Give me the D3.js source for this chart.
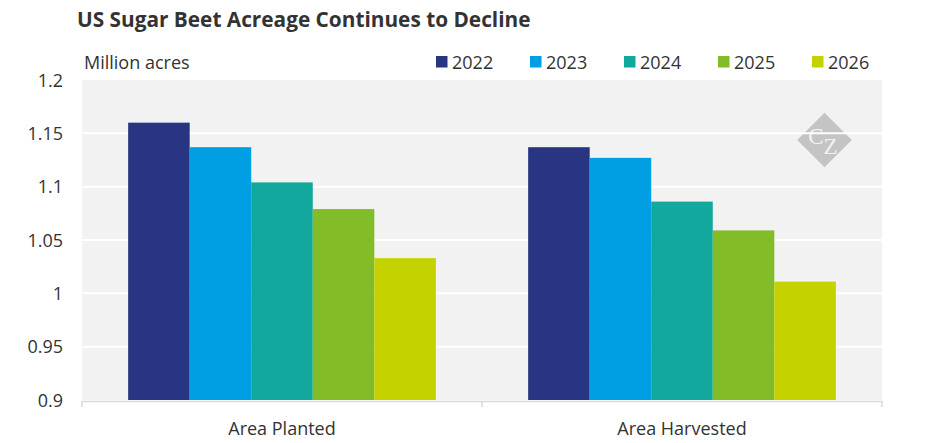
<!DOCTYPE html>
<html>
<head>
<meta charset="utf-8">
<script src="https://cdn.jsdelivr.net/npm/d3@7"></script>
<style>
   body { margin: 0; background: #fff; }
   text { font-family: 'Open Sans', sans-serif; fill: #333; }
</style>
</head>
<body>
<div id="chart"></div>
<script>
// chart values
const categories = ['Area Planted', 'Area Harvested'];
const years = ['2022', '2023', '2024', '2025', '2026'];
const planted = [1.160, 1.137, 1.104, 1.079, 1.033];
const harvested = [1.137, 1.127, 1.086, 1.059, 1.011];
const yTicks = [0.9, 0.95, 1, 1.05, 1.1, 1.15, 1.2];
const colors = ['#283583', '#009fe3', '#13a89e', '#82bc29', '#c4d200'];

const width = 945;
const height = 443;
const margin = { top: 80, right: 63, bottom: 43, left: 82 };

const series = [planted, harvested];

const svg = d3.select('#chart')
   .append('svg')
   .attr('width', width)
   .attr('height', height);

const x0 = d3.scaleBand()
   .domain(categories)
   .range([margin.left, width - margin.right])
   .padding(0);

const x1 = d3.scaleBand()
   .domain(years)
   .range([0, x0.bandwidth()])
   .paddingInner(0)
   .paddingOuter(0.75);

const y = d3.scaleLinear()
   .domain([0.9, 1.2])
   .range([height - margin.bottom, margin.top]);

const color = d3.scaleOrdinal().domain(years).range(colors);

// plot background
svg.append('rect')
   .attr('x', margin.left)
   .attr('y', y(1.2))
   .attr('width', width - margin.left - margin.right)
   .attr('height', y(0.9) - y(1.2))
   .attr('fill', '#f2f2f2');

// logo (under the grid)
const logo = svg.append('g')
   .attr('transform', 'translate(824.5,140)');
logo.append('rect')
   .attr('x', -19.3).attr('y', -19.3)
   .attr('width', 38.6).attr('height', 38.6)
   .attr('transform', 'rotate(45)')
   .attr('fill', '#c4c4c4');
logo.append('text')
   .attr('x', -8.5).attr('y', 3.5)
   .attr('text-anchor', 'middle')
   .style('font-family', "'Liberation Serif', serif")
   .style('font-size', '23px')
   .style('fill', '#f2f2f2')
   .text('C');
logo.append('text')
   .attr('x', 6).attr('y', 13.5)
   .attr('text-anchor', 'middle')
   .style('font-family', "'Liberation Serif', serif")
   .style('font-size', '23px')
   .style('fill', '#f2f2f2')
   .text('Z');

// gridlines
svg.append('g')
   .selectAll('line')
   .data(yTicks.filter(d => d > 0.9 && d < 1.2))
   .join('line')
   .attr('x1', margin.left)
   .attr('x2', width - margin.right)
   .attr('y1', d => y(d))
   .attr('y2', d => y(d))
   .attr('stroke', '#fff')
   .attr('stroke-width', 2);

// bars
const groups = svg.append('g')
   .selectAll('g')
   .data(categories)
   .join('g')
   .attr('transform', d => `translate(${x0(d)},0)`);

groups.selectAll('rect')
   .data((d, i) => years.map((yr, j) => ({ year: yr, value: series[i][j] })))
   .join('rect')
   .attr('x', d => x1(d.year))
   .attr('width', x1.bandwidth())
   .attr('y', d => y(d.value))
   .attr('height', d => y(0.9) - y(d.value))
   .attr('fill', d => color(d.year));

// y axis labels
const yAxis = d3.axisLeft(y)
   .tickValues(yTicks)
   .tickSize(0)
   .tickPadding(19)
   .tickFormat(d => d3.format('')(+d.toFixed(2)));
svg.append('g')
   .attr('transform', `translate(${margin.left},0)`)
   .call(yAxis)
   .call(g => g.select('.domain').remove())
   .call(g => g.selectAll('text').style('font-size', '18px').attr('dy', '0.34em'));

// x axis
const xAxis = d3.axisBottom(x0).tickSize(0).tickPadding(21);
const xg = svg.append('g')
   .attr('transform', `translate(0,${y(0.9) + 1})`)
   .call(xAxis);
xg.select('.domain').attr('stroke', '#d9d9d9').attr('stroke-width', 1.5);
xg.selectAll('text').style('font-size', '18px');
const bounds = categories.map(c => x0(c)).concat([x0(categories[categories.length - 1]) + x0.bandwidth()]);
xg.selectAll('.bound')
   .data(bounds)
   .join('line')
   .attr('class', 'bound')
   .attr('x1', d => d).attr('x2', d => d)
   .attr('y1', 0).attr('y2', 6)
   .attr('stroke', '#d9d9d9')
   .attr('stroke-width', 1.5);

// title and unit
svg.append('text')
   .attr('x', 77)
   .attr('y', 27)
   .style('font-size', '20.8px')
   .style('font-weight', 'bold')
   .text('US Sugar Beet Acreage Continues to Decline');

svg.append('text')
   .attr('x', 84)
   .attr('y', 69)
   .style('font-size', '18px')
   .text('Million acres');

// legend
const legend = svg.append('g')
   .selectAll('g')
   .data(years)
   .join('g')
   .attr('transform', (d, i) => `translate(${436 + i * 94},56)`);
legend.append('rect')
   .attr('width', 11.5)
   .attr('height', 11.5)
   .attr('fill', d => color(d));
legend.append('text')
   .attr('x', 16)
   .attr('y', 12.5)
   .style('font-size', '18px')
   .text(d => d);
</script>
</body>
</html>
